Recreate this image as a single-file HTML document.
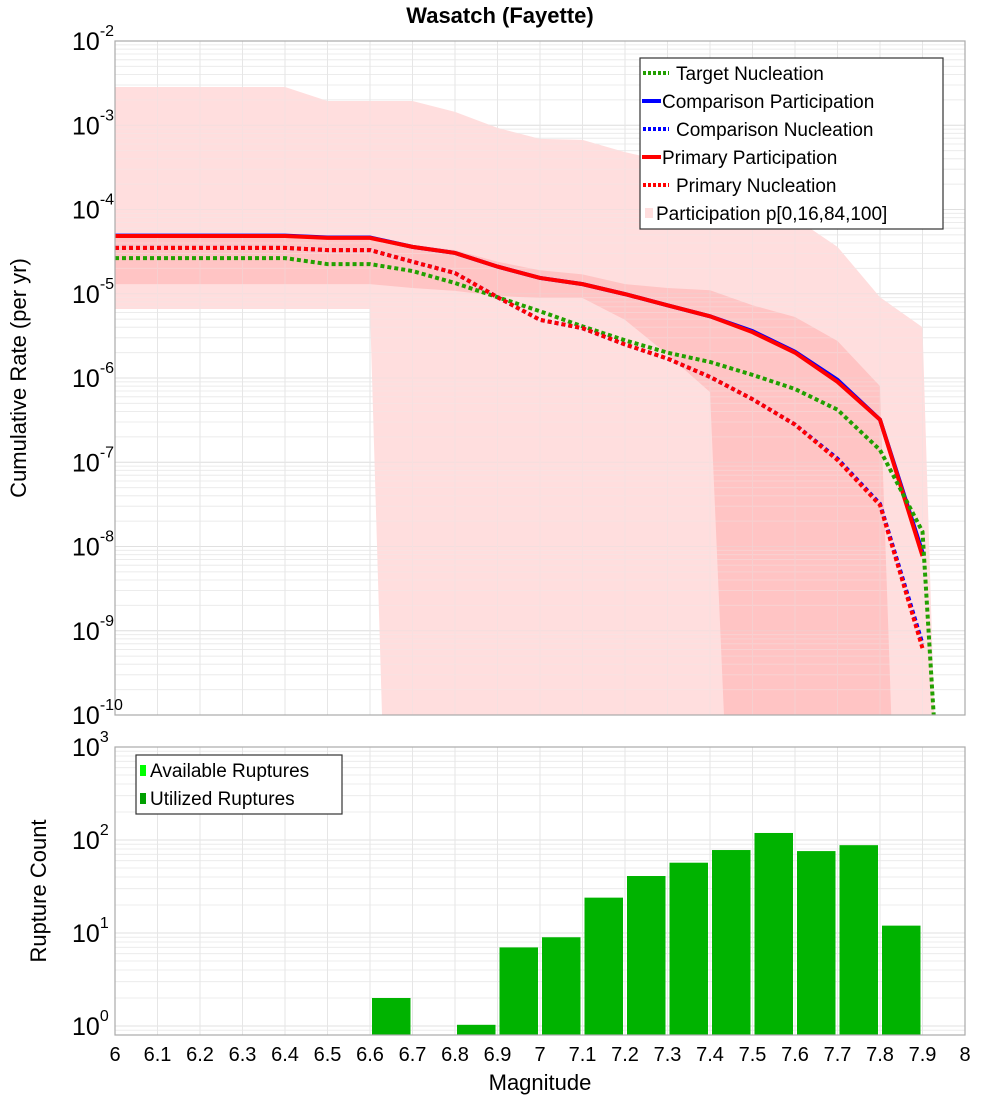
<!DOCTYPE html>
<html><head><meta charset="utf-8"><style>
body{margin:0;background:#fff;}
svg text{font-family:"Liberation Sans","DejaVu Sans",sans-serif;}
</style></head><body>
<svg id="chart" width="1000" height="1100" xmlns="http://www.w3.org/2000/svg">
<defs>
<clipPath id="clipTop"><rect x="115" y="41" width="850" height="674"/></clipPath>
<clipPath id="clipBot"><rect x="115" y="747" width="850" height="288"/></clipPath>
</defs>
<text x="500" y="23" text-anchor="middle" font-size="22" font-weight="bold">Wasatch (Fayette)</text>
<g id="topPlot"></g>
<g id="botPlot"></g>
<text transform="translate(26,378) rotate(-90)" text-anchor="middle" font-size="22">Cumulative Rate (per yr)</text>
<text transform="translate(46,891) rotate(-90)" text-anchor="middle" font-size="22">Rupture Count</text>
<text x="540" y="1090" text-anchor="middle" font-size="22">Magnitude</text>
</svg>
<script>
// ---- data ----
const mags = [6.0,6.1,6.2,6.3,6.4,6.5,6.6,6.7,6.8,6.9,7.0,7.1,7.2,7.3,7.4,7.5,7.6,7.7,7.8,7.9];
const primaryPart = [4.85e-5,4.85e-5,4.85e-5,4.85e-5,4.85e-5,4.6e-5,4.6e-5,3.6e-5,3.05e-5,2.1e-5,1.54e-5,1.3e-5,9.9e-6,7.3e-6,5.4e-6,3.5e-6,2.0e-6,9.0e-7,3.2e-7,7.7e-9];
const comparisonPart = [4.9e-5,4.9e-5,4.9e-5,4.9e-5,4.9e-5,4.65e-5,4.65e-5,3.6e-5,3.05e-5,2.1e-5,1.54e-5,1.3e-5,9.9e-6,7.3e-6,5.4e-6,3.6e-6,2.05e-6,9.5e-7,3.2e-7,8.5e-9];
const primaryNucl = [3.5e-5,3.5e-5,3.5e-5,3.5e-5,3.5e-5,3.3e-5,3.3e-5,2.4e-5,1.76e-5,9.1e-6,4.9e-6,3.9e-6,2.5e-6,1.7e-6,1.03e-6,5.6e-7,2.8e-7,1.06e-7,3.1e-8,6.2e-10];
const comparisonNucl = [3.5e-5,3.5e-5,3.5e-5,3.5e-5,3.5e-5,3.3e-5,3.3e-5,2.4e-5,1.76e-5,9.1e-6,4.9e-6,3.9e-6,2.5e-6,1.7e-6,1.03e-6,5.6e-7,2.8e-7,1.1e-7,3.2e-8,7e-10];
const targetMags = [6.0,6.1,6.2,6.3,6.4,6.5,6.6,6.7,6.8,6.9,7.0,7.1,7.2,7.3,7.4,7.5,7.6,7.7,7.8,7.9,7.93];
const targetNucl = [2.65e-5,2.65e-5,2.65e-5,2.65e-5,2.65e-5,2.25e-5,2.25e-5,1.86e-5,1.34e-5,9.1e-6,6.2e-6,4.1e-6,2.8e-6,2.0e-6,1.55e-6,1.09e-6,7.4e-7,4.2e-7,1.4e-7,1.5e-8,5e-11];
const outerUpperMags = [6.0,6.4,6.5,6.7,6.8,6.9,7.0,7.1,7.2,7.3,7.4,7.5,7.6,7.7,7.8,7.9,7.94];
const outerUpper = [2.84e-3,2.84e-3,1.94e-3,1.94e-3,1.44e-3,9.3e-4,6.9e-4,6.7e-4,4.8e-4,3.7e-4,2.2e-4,1.33e-4,7.9e-5,3.6e-5,9.1e-6,4e-6,1e-12];
const outerLowerMags = [6.0,6.6,6.64];
const outerLower = [6.6e-6,6.6e-6,1e-12];
const innerUpperMags = [6.0,6.6,6.7,6.8,6.9,7.0,7.1,7.2,7.3,7.4,7.5,7.6,7.7,7.8,7.84];
const innerUpper = [4.85e-5,4.85e-5,3.8e-5,3.3e-5,2.4e-5,1.9e-5,1.7e-5,1.3e-5,1.17e-5,1.1e-5,7.3e-6,5.3e-6,2.75e-6,8e-7,1e-12];
const innerLowerMags = [6.0,6.6,6.7,6.8,6.9,7.0,7.1,7.2,7.3,7.4,7.45];
const innerLower = [1.3e-5,1.3e-5,1.17e-5,1.08e-5,9.4e-6,8.9e-6,8.9e-6,4.9e-6,1.9e-6,6.8e-7,1e-12];
const binStarts = [6.6,6.8,6.9,7.0,7.1,7.2,7.3,7.4,7.5,7.6,7.7,7.8];
const ruptureCounts = [2,1.03,7,9,24,41,57,78,119,76,88,12];
const xTicks = ["6","6.1","6.2","6.3","6.4","6.5","6.6","6.7","6.8","6.9","7","7.1","7.2","7.3","7.4","7.5","7.6","7.7","7.8","7.9","8"];
const topExps = [-2,-3,-4,-5,-6,-7,-8,-9,-10];
const botExps = [3,2,1,0];

// ---- axes ----
const X0=115,X1=965;
const xs = m => X0+(m-6)/2*(X1-X0);
const TY0=41, TDEC=84.25;
const yTop = v => TY0+(-2-Math.log10(v))*TDEC;
const BY0=747, BDEC=93, BY1=1035;
const yBot = v => BY0+(3-Math.log10(v))*BDEC;
const NS="http://www.w3.org/2000/svg";
function mk(tag,attrs,parent){const e=document.createElementNS(NS,tag);for(const k in attrs)e.setAttribute(k,attrs[k]);parent.appendChild(e);return e;}
const topG=document.getElementById('topPlot'), botG=document.getElementById('botPlot');

function grid(g,yTopPx,yBotPx,yf,expMax,expMin){
  const gg=mk('g',{},g);
  
  
  for(let e=expMin-1;e<expMax;e++){for(let k=1;k<10;k++){const y=yf(k*Math.pow(10,e));if(y<yTopPx||y>yBotPx)continue;
    mk('line',{x1:X0,x2:X1,y1:y,y2:y,stroke:k==1?'#e0e0e0':'#ececec','stroke-width':1},gg);}}
  for(let i=0;i<=20;i++){const x=xs(6+i*0.1);mk('line',{x1:x,x2:x,y1:yTopPx,y2:yBotPx,stroke:'#e6e6e6','stroke-width':1},gg);}
}
grid(topG,TY0,715,yTop,-2,-10);
grid(botG,BY0,BY1,yBot,3,0);

function band(upM,up,loM,lo,fill,name){
  let pts=upM.map((m,i)=>xs(m)+','+yTop(up[i]));
  for(let i=loM.length-1;i>=0;i--)pts.push(xs(loM[i])+','+yTop(lo[i]));
  const p=mk('polygon',{points:pts.join(' '),fill:fill,'clip-path':'url(#clipTop)'},topG);
  
  
}
band(outerUpperMags,outerUpper,outerLowerMags,outerLower,'#ffdede','band-p0-p100');
band(innerUpperMags,innerUpper,innerLowerMags,innerLower,'#ffc4c4','band-p16-p84');
const og=mk('g',{opacity:0.35},topG);
grid(og,TY0,715,yTop,-2,-10);

function line(ms,vals,color,w,dash,name){
  const pts=ms.map((m,i)=>xs(m)+','+yTop(vals[i])).join(' ');
  const p=mk('polyline',{points:pts,fill:'none',stroke:color,'stroke-width':w,'stroke-dasharray':dash||'none','clip-path':'url(#clipTop)'},topG);
  
  
}
line(mags,comparisonPart,'#0000ff',4,null,'comparison-participation-line');
line(mags,primaryPart,'#ff0000',4,null,'primary-participation-line');
line(targetMags,targetNucl,'#22a000',4,'4,3','target-nucleation-line');
line(mags,comparisonNucl,'#0000ff',4,'4,3','comparison-nucleation-line');
line(mags,primaryNucl,'#ff0000',4,'4,3','primary-nucleation-line');

binStarts.forEach((m,i)=>{
  const y=yBot(ruptureCounts[i]);
  const r=mk('rect',{x:xs(m)+2,y:y,width:xs(m+0.1)-xs(m)-4,height:BY1-y,fill:'#00b300','clip-path':'url(#clipBot)'},botG);
  
  
});

[[TY0,715,topG],[BY0,BY1,botG]].forEach(([a,b,g])=>{const f=mk('rect',{x:X0,y:a,width:X1-X0,height:b-a,fill:'none',stroke:'#aaa','stroke-width':1.2},g);
  
  });

function ylab(g,y,exp,name){
  const t=mk('text',{x:72,y:y+9,'text-anchor':'start','font-size':25},g);
  
  
  t.textContent='10';
  const s=mk('tspan',{dy:-14,'font-size':16},t);s.textContent=String(exp);
}
topExps.forEach(e=>ylab(topG,yTop(Math.pow(10,e)),e,'y-tick-label'));
botExps.forEach(e=>ylab(botG,yBot(Math.pow(10,e)),e,'y-tick-label-count'));
xTicks.forEach((s,i)=>{const t=mk('text',{x:xs(6+i*0.1),y:1061,'text-anchor':'middle','font-size':20},botG);
  
  
  t.textContent=s;});

const lg=mk('g',{},topG);


mk('rect',{x:640,y:58,width:303,height:171,fill:'#fff',stroke:'#333','stroke-width':1.2},lg);
const entries=[['Target Nucleation','#22a000','dot'],['Comparison Participation','#0000ff','solid'],['Comparison Nucleation','#0000ff','dot'],['Primary Participation','#ff0000','solid'],['Primary Nucleation','#ff0000','dot'],['Participation p[0,16,84,100]','#ffdede','box']];
entries.forEach((en,i)=>{const y=73+i*28;const eg=mk('g',{},lg);
  
  
  let tx=676;
  if(en[2]=='dot'){mk('line',{x1:643,x2:669,y1:y,y2:y,stroke:en[1],'stroke-width':4,'stroke-dasharray':'3,2'},eg);}
  else if(en[2]=='solid'){mk('line',{x1:642,x2:661,y1:y,y2:y,stroke:en[1],'stroke-width':4},eg);tx=662;}
  else{mk('rect',{x:645,y:y-5,width:8,height:10,fill:en[1]},eg);tx=656;}
  const t=mk('text',{x:tx,y:y+7,'font-size':19},eg);t.textContent=en[0];});

const bl=mk('g',{},botG);


mk('rect',{x:136,y:755,width:206,height:59,fill:'#fff',stroke:'#333','stroke-width':1.2},bl);
[['Available Ruptures','#00ff00'],['Utilized Ruptures','#00a000']].forEach((en,i)=>{const y=770+i*28;const eg=mk('g',{},bl);
  
  
  mk('rect',{x:140,y:y-5,width:6,height:11,fill:en[1]},eg);
  const t=mk('text',{x:150,y:y+7,'font-size':19},eg);t.textContent=en[0];});
</script>
</body></html>
